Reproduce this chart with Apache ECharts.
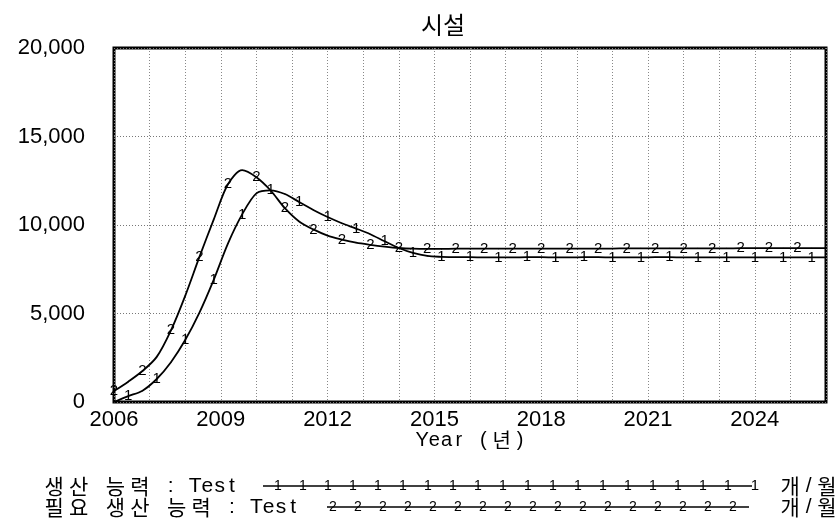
<!DOCTYPE html>
<html>
<head>
<meta charset="utf-8">
<script src="https://cdn.jsdelivr.net/npm/echarts@6/dist/echarts.min.js"></script>
<style>
  html, body { margin: 0; padding: 0; background: #fff; }
  #chart { width: 837px; height: 523px; }
</style>
</head>
<body>
<div id="chart"></div>
<script>
// 시간축 (0.4년 간격)
const years = [
  2006.0, 2006.4, 2006.8, 2007.2, 2007.6, 2008.0, 2008.4, 2008.8, 2009.2, 2009.6,
  2010.0, 2010.4, 2010.8, 2011.2, 2011.6, 2012.0, 2012.4, 2012.8, 2013.2, 2013.6,
  2014.0, 2014.4, 2014.8, 2015.2, 2015.6, 2016.0, 2016.4, 2016.8, 2017.2, 2017.6,
  2018.0, 2018.4, 2018.8, 2019.2, 2019.6, 2020.0, 2020.4, 2020.8, 2021.2, 2021.6,
  2022.0, 2022.4, 2022.8, 2023.2, 2023.6, 2024.0, 2024.4, 2024.8, 2025.2, 2025.6,
  2026.0
];
// 생산 능력 : Test
const capacity = [
  0, 330, 640, 1300, 2250, 3500, 5050, 6900, 8950, 10600,
  11790, 11960, 11750, 11300, 10850, 10450, 10100, 9800, 9480, 9080,
  8700, 8420, 8250, 8200, 8180, 8180, 8170, 8170, 8170, 8180,
  8180, 8170, 8170, 8180, 8180, 8170, 8170, 8170, 8180, 8180,
  8170, 8170, 8170, 8170, 8170, 8170, 8170, 8170, 8170, 8170,
  8170
];
// 필요 생산 능력 : Test
const required = [
  620, 1150, 1750, 2550, 4050, 6000, 8200, 10300, 12300, 13100,
  12700, 11950, 10950, 10200, 9750, 9400, 9180, 9000, 8880, 8780,
  8700, 8660, 8650, 8650, 8660, 8660, 8660, 8660, 8660, 8670,
  8670, 8670, 8670, 8670, 8670, 8670, 8680, 8680, 8680, 8680,
  8680, 8680, 8680, 8680, 8690, 8690, 8690, 8690, 8690, 8690,
  8690
];
const yTicks = [0, 5000, 10000, 15000, 20000];
const xLabels = [2006, 2009, 2012, 2015, 2018, 2021, 2024];
const xName = 'Year (년)';
const unit = '개/월';

const numFont = '"Liberation Sans", Arial, sans-serif';
const krFont = '"Noto Sans CJK KR", sans-serif';

const toPairs = (vals) => years.map((y, i) => [y, vals[i]]);

// 고정폭 글꼴처럼 한 글자씩 배치 (한글은 전각, 나머지는 반각)
const cell = 12.25;
function monoText(str, x, y, size) {
  const out = [];
  for (const ch of str) {
    const wide = /[\u1100-\u11ff\u3130-\u318f\uac00-\ud7af]/.test(ch);
    const w = wide ? cell * 2 : cell;
    if (ch !== ' ') {
      out.push({
        type: 'text', x: x + w / 2, y: y,
        style: {
          text: ch, fill: '#000', align: 'center', verticalAlign: 'middle',
          font: wide ? size + 'px ' + krFont : size + 'px ' + numFont
        }
      });
    }
    x += w;
  }
  return out;
}

// 축 이름 + 범례 그래픽
let legendGraphic = monoText(xName, 416, 440, 20);
const rows = [
  { text: '생산 능력 : Test', y: 486, x0: 263, x1: 752, mark: '1', m0: 278, m1: 728, endMark: true },
  { text: '필요 생산 능력 : Test', y: 507, x0: 327, x1: 749, mark: '2', m0: 333, m1: 735, endMark: false }
];
rows.forEach(r => {
  legendGraphic = legendGraphic.concat(monoText(r.text, 42, r.y, 21));
  legendGraphic.push({
    type: 'line', shape: { x1: r.x0, y1: r.y, x2: r.x1, y2: r.y },
    style: { stroke: '#000', lineWidth: 1.5 }
  });
  for (let x = r.m0; x <= r.m1; x += 25) {
    legendGraphic.push({
      type: 'text', x: x, y: r.y,
      style: { text: r.mark, font: '14px ' + numFont, fill: '#000', align: 'center', verticalAlign: 'middle' }
    });
  }
  if (r.endMark) {
    legendGraphic.push({
      type: 'text', x: r.x1 + 3, y: r.y,
      style: { text: r.mark, font: '15px ' + numFont, fill: '#000', align: 'center', verticalAlign: 'middle' }
    });
  }
  legendGraphic = legendGraphic.concat(monoText(unit, 778, r.y, 21));
});

const markLabel = (mark, pick) => ({
  show: true,
  position: 'inside',
  color: '#000',
  fontSize: 15,
  fontFamily: numFont,
  formatter: p => (pick(p.dataIndex) ? mark : '')
});

const option = {
  animation: false,
  backgroundColor: '#fff',
  title: {
    text: '시설',
    left: 416,
    top: 8,
    textStyle: { fontFamily: krFont, fontSize: 24, fontWeight: 'normal', color: '#000' }
  },
  grid: {
    left: 114, right: 11, top: 48, bottom: 121,
    show: true, borderColor: '#000', borderWidth: 3, backgroundColor: '#fff'
  },
  xAxis: {
    type: 'value',
    min: 2006, max: 2026, interval: 1,
    axisLine: { show: false },
    axisTick: { show: false },
    axisLabel: {
      fontFamily: numFont, fontSize: 22, color: '#000', margin: 7,
      showMaxLabel: false,
      formatter: v => (xLabels.includes(v) ? String(v) : '')
    },
    splitLine: { show: true, lineStyle: { color: '#888', type: [1, 2], width: 1 } }
  },
  yAxis: {
    type: 'value',
    min: 0, max: 20000, interval: 5000,
    axisLine: { show: false },
    axisTick: { show: false },
    axisLabel: {
      fontFamily: numFont, fontSize: 22, color: '#000', margin: 29,
      formatter: v => (yTicks.includes(v) ? v.toLocaleString('en-US') : '')
    },
    splitLine: { show: true, lineStyle: { color: '#777', type: [1, 2], width: 1 } }
  },
  series: [
    {
      name: '생산 능력 : Test',
      type: 'line',
      data: toPairs(capacity),
      smooth: 0.3,
      symbol: 'circle', symbolSize: 1,
      itemStyle: { color: '#000' },
      lineStyle: { color: '#000', width: 1.8 },
      label: markLabel('1', i => i % 2 === 1)
    },
    {
      name: '필요 생산 능력 : Test',
      type: 'line',
      data: toPairs(required),
      smooth: 0.3,
      symbol: 'circle', symbolSize: 1,
      itemStyle: { color: '#000' },
      lineStyle: { color: '#000', width: 1.8 },
      label: markLabel('2', i => i % 2 === 0 && i < years.length - 1)
    }
  ],
  graphic: legendGraphic
};

const myChart = echarts.init(document.getElementById('chart'));
myChart.setOption(option);
</script>
</body>
</html>
